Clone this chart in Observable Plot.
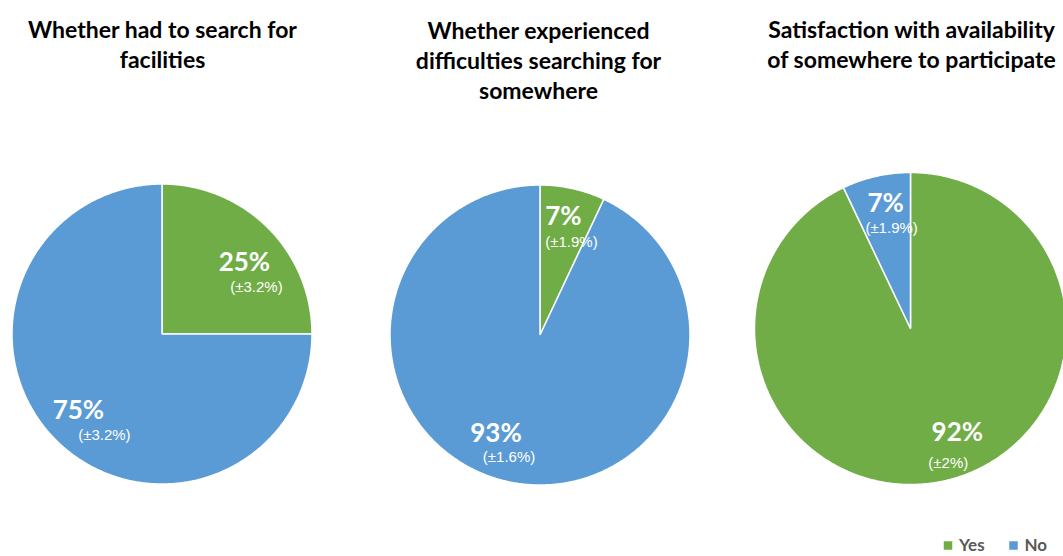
<!DOCTYPE html>
<html><head><meta charset="utf-8">
<script src="https://cdn.jsdelivr.net/npm/d3@7"></script>
<script src="https://cdn.jsdelivr.net/npm/@observablehq/plot@0.6"></script>
<style>body{margin:0;background:#fff;overflow:hidden}</style>
</head><body><div id="chart"></div>
<script>
// ---- data ----
const titles = [
  "Whether had to search for\nfacilities",
  "Whether experienced\ndifficulties searching for\nsomewhere",
  "Satisfaction with availability\nof somewhere to participate"
];
const categories = ["Yes", "No"];
const yesValues = [25, 7, 92];
const noValues = [75, 93, 7];
const yesMargins = ["(±3.2%)", "(±1.9%)", "(±2%)"];
const noMargins = ["(±3.2%)", "(±1.6%)", "(±1.9%)"];
const colors = ["#70AD47", "#5B9BD5"];

// ---- layout ----
const W = 1063, H = 556;
const pieLayout = [
  {cx: 162, cy: 334, r: 150},
  {cx: 540, cy: 335, r: 150},
  {cx: 910.5, cy: 328.5, r: 156}
];
const titleLayout = [{x: 162, y: 16}, {x: 538, y: 17}, {x: 911, y: 16}];
// per pie, per category: [fraction along slice, radial fraction, sub dx, sub dy]
const labelLayout = [
  [[0.541, 0.727, 12, 25], [0.511, 0.755, 26, 25]],
  [[0.433, 0.808, 8, 26], [0.535, 0.72, 13, 23]],
  [[0.466, 0.727, -9, 31], [0.55, 0.82, 6, 25]]
];
const legendLayout = {y: 545, x: [947.5, 1013], gap: 11};

// ---- build rows ----
const wedgeRows = [], labelRows = [];
const pie = d3.pie().sort(null).value(d => d);
pieLayout.forEach((p, i) => {
  const vals = [yesValues[i], noValues[i]];
  const margins = [yesMargins[i], noMargins[i]];
  pie(vals).forEach((arc, j) => {
    const a0 = arc.startAngle, a1 = arc.endAngle;
    const n = Math.max(2, Math.ceil((a1 - a0) / (Math.PI / 360)));
    for (let k = 0; k <= n; k++) {
      const a = a0 + (a1 - a0) * k / n;
      wedgeRows.push({key: i + "-" + j, cat: categories[j],
        x: p.cx + p.r * Math.sin(a), y: p.cy - p.r * Math.cos(a), cx: p.cx, cy: p.cy});
    }
    const [f, kr, sdx, sdy] = labelLayout[i][j];
    const am = a0 + (a1 - a0) * f;
    const lx = p.cx + p.r * kr * Math.sin(am), ly = p.cy - p.r * kr * Math.cos(am);
    labelRows.push({value: vals[j] + "%", moe: margins[j], x: lx, y: ly, sx: lx + sdx, sy: ly + sdy});
  });
});
const titleRows = titles.map((t, i) => ({title: t, x: titleLayout[i].x, y: titleLayout[i].y}));
const legendRows = categories.map((c, i) => ({cat: c, x: legendLayout.x[i], tx: legendLayout.x[i] + legendLayout.gap, y: legendLayout.y}));

const chart = Plot.plot({
  width: W, height: H, margin: 0,
  x: {domain: [0, W], range: [0, W], axis: null},
  y: {domain: [0, H], range: [0, H], axis: null},
  color: {domain: categories, range: colors},
  style: {background: "white"},
  marks: [
    Plot.area(wedgeRows, {x1: "x", y1: "y", x2: "cx", y2: "cy", z: "key", fill: "cat",
      stroke: "white", strokeWidth: 1.5, strokeLinejoin: "miter", curve: "linear"}),
    Plot.text(labelRows, {x: "x", y: "y", text: "value", fill: "white", fontSize: 26,
      fontWeight: "bold", fontFamily: "Lato"}),
    Plot.text(labelRows, {x: "sx", y: "sy", text: "moe", fill: "white", fontSize: 15,
      fontFamily: "Liberation Sans"}),
    Plot.text(titleRows, {x: "x", y: "y", text: "title", lineAnchor: "top", lineHeight: 1.3,
      fontSize: 23, fontWeight: "bold", fontFamily: "Lato", fill: "black"}),
    Plot.dot(legendRows, {x: "x", y: "y", symbol: "square", fill: "cat", r: 4.8}),
    Plot.text(legendRows, {x: "tx", y: "y", text: "cat", textAnchor: "start", fill: "#595959",
      fontSize: 17, fontWeight: "bold", fontFamily: "Lato"})
  ]
});
document.getElementById("chart").appendChild(chart);
</script>
</body></html>
